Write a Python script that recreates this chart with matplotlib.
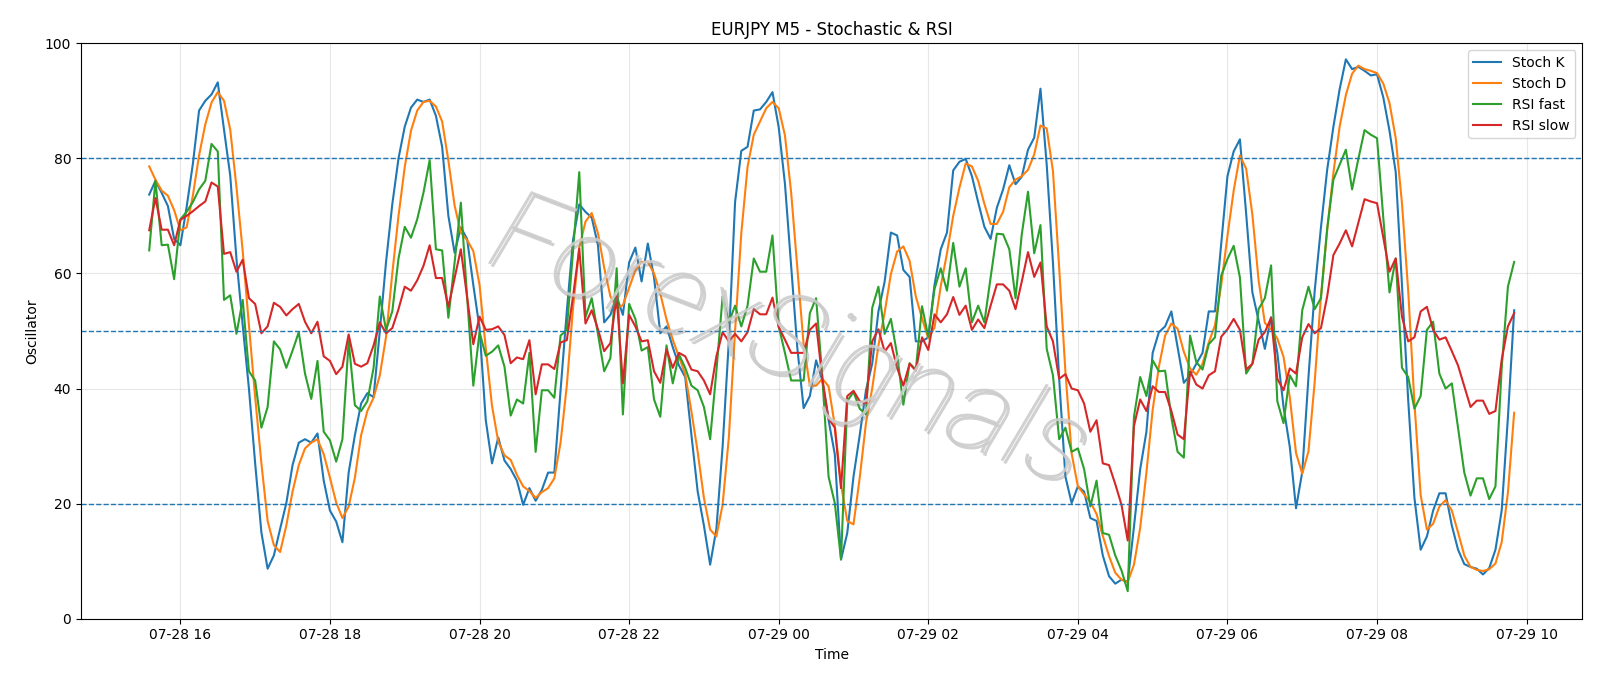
import numpy as np
import pandas as pd
import matplotlib
matplotlib.use("Agg")
import matplotlib.pyplot as plt
import matplotlib.dates as mdates
import matplotlib.patheffects as pe

# 5-minute bars, 07-28 15:35 -> 07-29 09:50
times = pd.date_range("2025-07-28 15:35", periods=220, freq="5min")

stoch_k = [
    73.7, 76.1, 74.0, 71.7, 66.0, 64.9, 71.5, 79.0, 88.3, 90.0,
    91.1, 93.2, 85.0, 77.0, 62.5, 51.0, 40.0, 27.0, 15.0, 8.7,
    11.0, 15.6, 20.1, 26.7, 30.6, 31.2, 30.6, 32.2, 24.0, 18.8,
    16.9, 13.3, 25.4, 31.9, 37.4, 39.2, 38.5, 50.0, 62.0, 72.0,
    80.0, 85.5, 88.8, 90.2, 89.8, 90.2, 87.4, 82.0, 70.0, 63.6,
    68.0, 66.0, 58.0, 50.5, 34.5, 27.0, 31.5, 27.5, 26.0, 24.0,
    19.8, 22.7, 20.5, 22.4, 25.4, 25.4, 39.7, 53.4, 65.8, 72.0,
    70.7, 69.7, 64.9, 51.5, 52.8, 56.0, 52.8, 61.9, 64.5, 58.6,
    65.2, 59.3, 49.6, 50.8, 47.2, 44.0, 42.0, 31.9, 22.1, 16.2,
    9.4, 15.6, 29.9, 48.2, 72.4, 81.3, 82.0, 88.3, 88.5, 89.8,
    91.5, 85.4, 75.6, 61.3, 46.9, 36.6, 38.7, 44.9, 41.4, 34.5,
    28.6, 10.3, 14.9, 24.7, 31.9, 39.7, 44.3, 53.4, 58.6, 67.1,
    66.6, 60.6, 59.4, 48.2, 48.2, 48.9, 58.0, 64.2, 67.1, 77.9,
    79.4, 79.9, 76.9, 72.4, 68.1, 66.0, 71.4, 74.6, 78.8, 75.5,
    76.8, 81.5, 83.6, 92.1, 78.9, 61.9, 41.7, 24.7, 20.1, 23.0,
    22.1, 17.5, 17.0, 11.0, 7.4, 6.1, 6.8, 6.4, 16.0, 26.0,
    32.5, 46.2, 49.8, 50.8, 53.4, 47.2, 41.0, 42.3, 44.3, 46.2,
    53.4, 53.4, 65.2, 76.9, 81.2, 83.3, 70.4, 56.7, 51.8, 46.9,
    52.4, 46.2, 36.8, 29.9, 19.2, 25.5, 42.0, 57.0, 68.0, 78.0,
    85.5, 92.0, 97.2, 95.5, 95.9, 95.2, 94.4, 94.6, 90.6, 84.8,
    77.6, 58.0, 38.0, 21.0, 12.0, 14.3, 18.8, 21.8, 21.8, 16.2,
    12.0, 9.5, 9.0, 8.7, 7.7, 8.8, 12.0, 18.8, 35.0, 53.6,
]

stoch_d = [
    78.6, 76.3, 74.4, 73.5, 71.0, 67.5, 68.0, 73.5, 80.5, 85.9,
    89.7, 91.5, 90.0, 85.0, 75.0, 63.9, 51.0, 38.5, 27.0, 17.0,
    12.8, 11.6, 16.2, 22.1, 26.7, 29.6, 30.6, 31.2, 28.6, 24.5,
    20.2, 17.5, 19.5, 24.5, 31.9, 36.1, 38.4, 42.3, 49.0, 60.0,
    70.0, 78.5, 84.8, 88.3, 89.8, 90.0, 89.0, 86.4, 79.6, 71.8,
    67.1, 65.8, 63.9, 58.0, 47.0, 37.0, 30.8, 28.4, 27.6, 25.0,
    23.0, 22.2, 21.0, 22.0, 22.7, 24.4, 30.6, 40.5, 54.0, 64.5,
    69.0, 70.5, 67.0, 61.0, 56.0, 54.0, 54.5, 57.5, 60.5, 62.0,
    62.0, 60.0, 56.5, 52.0, 48.5, 45.5, 42.5, 36.0, 29.0, 21.0,
    15.5, 14.3, 19.8, 31.5, 50.0, 67.0, 78.5, 84.1, 86.4, 88.7,
    89.8, 88.7, 84.0, 74.0, 60.7, 47.6, 40.5, 40.5, 41.7, 40.4,
    33.6, 23.3, 17.0, 16.4, 24.5, 34.0, 40.0, 47.5, 53.2, 59.9,
    63.8, 64.7, 62.2, 56.0, 52.2, 48.7, 50.6, 57.8, 63.5, 70.0,
    74.9, 79.1, 78.6, 76.1, 72.1, 68.6, 68.6, 70.7, 75.0, 76.3,
    76.9, 78.0, 80.7, 85.7, 85.2, 77.8, 61.0, 42.9, 28.7, 23.0,
    21.6, 20.3, 18.2, 14.4, 10.9, 8.0, 6.8, 6.4, 9.4, 15.8,
    25.4, 36.3, 43.8, 49.2, 51.3, 50.4, 46.4, 43.5, 42.4, 44.3,
    48.0, 51.0, 58.0, 66.5, 74.4, 80.5, 78.2, 70.2, 58.8, 51.4,
    50.3, 48.7, 45.5, 38.5, 28.8, 25.2, 29.1, 41.2, 56.0, 67.5,
    77.5, 85.5, 91.0, 94.7, 96.1, 95.5, 95.2, 94.8, 93.0, 89.6,
    83.5, 72.2, 57.0, 37.5, 21.5, 15.5, 16.5, 19.5, 20.6, 18.8,
    15.0, 11.0, 9.0, 8.5, 8.3, 8.6, 9.6, 13.3, 21.9, 35.8,
]

rsi_fast = [
    64.0, 76.1, 64.9, 65.0, 59.0, 69.4, 70.7, 72.4, 74.6, 76.1,
    82.5, 81.2, 55.4, 56.2, 49.5, 55.4, 43.0, 41.4, 33.2, 36.8,
    48.2, 46.8, 43.6, 46.6, 49.8, 42.6, 38.2, 44.8, 32.5, 31.0,
    27.3, 31.2, 48.2, 37.1, 36.1, 37.8, 43.6, 56.0, 50.2, 53.4,
    62.6, 68.1, 66.2, 69.4, 74.0, 79.7, 64.2, 64.0, 52.3, 61.9,
    72.3, 56.0, 40.5, 49.8, 45.7, 46.4, 47.5, 43.8, 35.3, 38.1,
    37.4, 46.2, 29.0, 39.7, 39.7, 38.4, 49.2, 50.2, 63.9, 77.6,
    52.4, 55.7, 49.5, 43.0, 45.3, 60.9, 35.5, 54.7, 52.1, 46.6,
    47.2, 38.1, 35.1, 47.5, 40.9, 45.9, 43.6, 40.5, 39.7, 36.8,
    31.2, 43.0, 56.0, 51.5, 54.4, 50.8, 54.4, 62.6, 60.3, 60.3,
    66.6, 50.8, 46.2, 41.4, 41.4, 41.4, 53.1, 55.7, 42.0, 24.7,
    20.1, 10.3, 37.8, 39.4, 36.5, 35.5, 54.0, 57.7, 49.5, 52.1,
    45.9, 37.2, 44.4, 43.3, 54.3, 49.0, 57.3, 60.9, 57.0, 65.3,
    57.7, 60.9, 51.5, 54.4, 51.5, 59.3, 66.9, 66.8, 64.2, 55.7,
    66.8, 74.2, 63.5, 68.4, 46.9, 42.3, 31.2, 33.2, 29.0, 29.6,
    26.0, 19.5, 24.0, 14.9, 14.6, 11.0, 8.4, 4.8, 35.1, 42.0,
    38.7, 44.9, 43.0, 43.1, 35.0, 29.0, 28.0, 49.2, 44.6, 43.3,
    47.7, 48.9, 59.6, 62.5, 64.8, 59.3, 42.6, 44.3, 53.8, 55.7,
    61.4, 37.8, 34.0, 42.3, 40.4, 53.6, 57.7, 53.8, 55.7, 67.8,
    76.3, 78.9, 81.5, 74.6, 79.9, 84.9, 84.1, 83.5, 69.7, 56.7,
    62.6, 43.6, 42.0, 36.5, 38.7, 50.2, 51.6, 42.6, 40.0, 40.9,
    33.2, 25.4, 21.4, 24.4, 24.4, 20.8, 23.0, 43.6, 57.7, 62.0,
]

rsi_slow = [
    67.5, 73.1, 67.6, 67.6, 64.9, 69.3, 70.0, 70.8, 71.7, 72.5,
    75.8, 75.1, 63.4, 63.7, 60.3, 62.4, 55.7, 54.7, 49.6, 50.8,
    54.9, 54.2, 52.7, 53.8, 54.7, 51.6, 49.6, 51.6, 45.6, 44.8,
    42.5, 43.8, 49.4, 44.3, 43.8, 44.4, 47.5, 51.5, 49.6, 50.5,
    53.8, 57.7, 57.0, 58.8, 61.3, 64.9, 59.2, 59.2, 54.2, 59.2,
    64.2, 56.0, 47.7, 52.5, 50.2, 50.3, 50.8, 49.3, 44.4, 45.4,
    45.1, 48.4, 39.0, 44.2, 44.2, 43.4, 48.0, 48.4, 56.0, 64.3,
    51.3, 53.6, 50.3, 46.5, 47.9, 56.0, 40.9, 52.8, 50.8, 48.2,
    48.4, 43.0, 41.0, 46.8, 43.6, 46.2, 45.6, 43.3, 43.0, 41.4,
    39.0, 45.6, 49.8, 48.2, 49.5, 48.2, 49.8, 53.8, 52.9, 52.9,
    55.8, 50.7, 48.5, 46.2, 46.2, 46.2, 50.2, 51.3, 41.7, 34.8,
    33.2, 22.7, 38.7, 39.6, 37.8, 37.4, 48.2, 50.3, 46.4, 47.9,
    43.6, 40.5, 44.3, 43.1, 48.9, 46.7, 52.9, 51.5, 52.9, 55.9,
    52.8, 54.4, 50.2, 52.0, 50.5, 54.4, 58.1, 58.1, 57.0, 53.8,
    58.6, 63.7, 59.4, 61.9, 50.8, 48.2, 41.7, 42.5, 40.0, 39.7,
    37.4, 32.5, 34.5, 27.0, 26.7, 23.4, 19.8, 13.6, 33.5, 38.1,
    36.1, 40.4, 39.4, 39.4, 36.1, 32.0, 31.2, 43.0, 40.7, 40.0,
    42.3, 43.0, 49.0, 50.3, 52.1, 50.2, 43.3, 44.3, 48.5, 49.8,
    52.3, 41.7, 39.7, 43.5, 42.6, 48.9, 51.2, 49.6, 50.5, 56.0,
    63.2, 65.2, 67.5, 64.7, 68.8, 72.9, 72.5, 72.2, 66.2, 60.3,
    62.6, 52.5, 48.2, 48.9, 53.4, 54.2, 50.2, 48.5, 48.9, 46.5,
    44.0, 40.4, 36.8, 37.9, 37.9, 35.6, 36.1, 45.0, 50.8, 53.1,
]

levels = [20, 50, 80]

fig, ax = plt.subplots(figsize=(16, 6.86), dpi=100)
fig.subplots_adjust(left=0.0506, right=0.989, top=0.937, bottom=0.098)

ax.plot(times, stoch_k, label="Stoch K", lw=1.5)
ax.plot(times, stoch_d, label="Stoch D", lw=1.5)
ax.plot(times, rsi_fast, label="RSI fast", lw=1.5)
ax.plot(times, rsi_slow, label="RSI slow", lw=1.5)

for lv in levels:
    ax.axhline(lv, color="C0", linestyle="--", linewidth=1)

ax.set_ylim(0, 100)
ax.xaxis.set_major_locator(mdates.HourLocator(byhour=range(0, 24, 2)))
ax.xaxis.set_major_formatter(mdates.DateFormatter("%m-%d %H"))
ax.grid(True, alpha=0.3)

ax.set_title("EURJPY M5 - Stochastic & RSI")
ax.set_xlabel("Time")
ax.set_ylabel("Oscillator")
ax.legend(loc="upper right")

# watermark: thin light-grey letters with a soft shadow
ax.text(0.471, 0.476, "ForexSignals", transform=ax.transAxes,
        fontsize=84, family="Roboto", fontweight=100, fontstyle="italic",
        color="#cccccc", alpha=0.9, rotation=-21, ha="center", va="center",
        zorder=5,
        path_effects=[pe.withSimplePatchShadow(offset=(2, -2), shadow_rgbFace="#8a8a8a", alpha=0.4)])

fig.savefig("out.png", dpi=100)
